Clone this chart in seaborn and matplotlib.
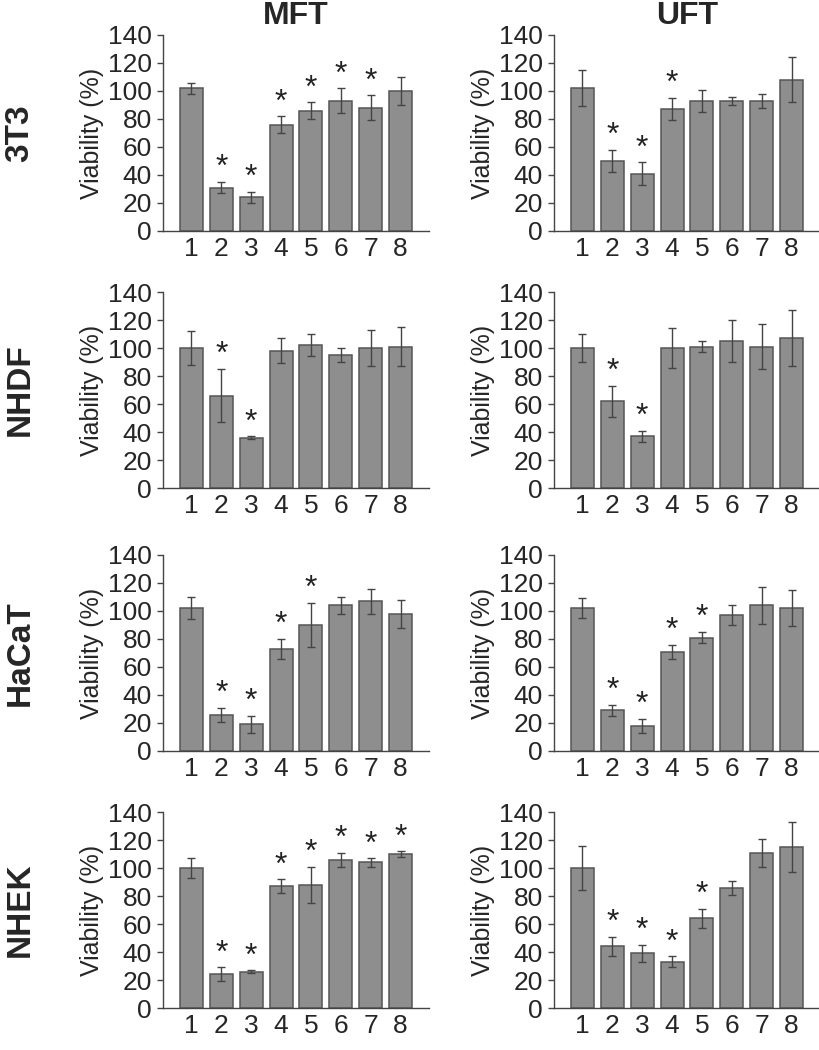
import pandas as pd
import matplotlib
matplotlib.use("Agg")
import matplotlib.pyplot as plt
import seaborn as sns

# x categories (treatments 1-8)
groups = ["1", "2", "3", "4", "5", "6", "7", "8"]
columns = ["MFT", "UFT"]
cell_lines = ["3T3", "NHDF", "HaCaT", "NHEK"]

# viability (%), with error bars and significance marks
mft_3t3 = [102, 31, 24, 76, 86, 93, 88, 100]
mft_3t3_err = [4, 4, 4, 6, 6, 9, 9, 10]
mft_3t3_sig = [0, 1, 1, 1, 1, 1, 1, 0]

uft_3t3 = [102, 50, 41, 87, 93, 93, 93, 108]
uft_3t3_err = [13, 8, 8, 8, 8, 3, 5, 16]
uft_3t3_sig = [0, 1, 1, 1, 0, 0, 0, 0]

mft_nhdf = [100, 66, 36, 98, 102, 95, 100, 101]
mft_nhdf_err = [12, 19, 1, 9, 8, 5, 13, 14]
mft_nhdf_sig = [0, 1, 1, 0, 0, 0, 0, 0]

uft_nhdf = [100, 62, 37, 100, 101, 105, 101, 107]
uft_nhdf_err = [10, 11, 4, 14, 4, 15, 16, 20]
uft_nhdf_sig = [0, 1, 1, 0, 0, 0, 0, 0]

mft_hacat = [102, 26, 19, 73, 90, 104, 107, 98]
mft_hacat_err = [8, 5, 6, 7, 16, 6, 9, 10]
mft_hacat_sig = [0, 1, 1, 1, 1, 0, 0, 0]

uft_hacat = [102, 29, 18, 71, 81, 97, 104, 102]
uft_hacat_err = [7, 4, 5, 5, 4, 7, 13, 13]
uft_hacat_sig = [0, 1, 1, 1, 1, 0, 0, 0]

mft_nhek = [100, 24, 26, 87, 88, 106, 104, 110]
mft_nhek_err = [7, 5, 1, 5, 13, 5, 3, 2]
mft_nhek_sig = [0, 1, 1, 1, 1, 1, 1, 1]

uft_nhek = [100, 44, 39, 33, 64, 86, 111, 115]
uft_nhek_err = [16, 7, 6, 4, 7, 5, 10, 18]
uft_nhek_sig = [0, 1, 1, 1, 1, 0, 0, 0]

panels = [
    [(mft_3t3, mft_3t3_err, mft_3t3_sig), (uft_3t3, uft_3t3_err, uft_3t3_sig)],
    [(mft_nhdf, mft_nhdf_err, mft_nhdf_sig), (uft_nhdf, uft_nhdf_err, uft_nhdf_sig)],
    [(mft_hacat, mft_hacat_err, mft_hacat_sig), (uft_hacat, uft_hacat_err, uft_hacat_sig)],
    [(mft_nhek, mft_nhek_err, mft_nhek_sig), (uft_nhek, uft_nhek_err, uft_nhek_sig)],
]

sns.set_style("ticks")
plt.rcParams["font.family"] = ["Liberation Sans", "DejaVu Sans"]

fig = plt.figure(figsize=(8.2, 10.5), dpi=100)

W, H = 820, 1050
col_left = [163, 554]
ax_w = 266
row_top = [35, 292, 555, 812]
ax_h = 196

bar_col = "#8e8e8e"
edge_col = "#555555"
line_col = "#444444"

for r, row in enumerate(panels):
    for c, (vals, errs, sig) in enumerate(row):
        ax = fig.add_axes([col_left[c] / W, 1 - (row_top[r] + ax_h) / H,
                           ax_w / W, ax_h / H])
        df = pd.DataFrame({"group": groups, "viability": vals})
        sns.barplot(data=df, x="group", y="viability", ax=ax, color=bar_col,
                    edgecolor=edge_col, linewidth=1.1, width=0.77,
                    saturation=1, errorbar=None)
        ax.errorbar(range(len(groups)), vals, yerr=errs, fmt="none",
                    ecolor=line_col, elinewidth=1.0, capsize=3, capthick=1.0)
        for i, s in enumerate(sig):
            if s:
                ax.annotate("*", (i, vals[i] + errs[i]), xytext=(0, -1),
                            textcoords="offset points", ha="center",
                            va="bottom", fontsize=23, color="#222222")
        ax.set_ylim(0, 140)
        ax.set_xlim(-0.95, 7.95)
        ax.set_yticks(range(0, 141, 20))
        ax.tick_params(axis="y", labelsize=19, length=4, width=1,
                       color=line_col, pad=4)
        ax.tick_params(axis="x", labelsize=19, length=0, pad=4)
        ax.set_xlabel("")
        ax.set_ylabel("Viability (%)", fontsize=18, labelpad=3)
        for sp in ["top", "right"]:
            ax.spines[sp].set_visible(False)
        for sp in ["left", "bottom"]:
            ax.spines[sp].set_color(line_col)
            ax.spines[sp].set_linewidth(1.0)
        if r == 0:
            ax.set_title(columns[c], fontsize=23, fontweight="bold", pad=2,
                         y=1.04)

    mid = 1 - (row_top[r] + ax_h / 2) / H
    fig.text(20 / W, mid, cell_lines[r], rotation=90, fontsize=24,
             fontweight="bold", ha="center", va="center")

plt.savefig("out.png", dpi=100)
